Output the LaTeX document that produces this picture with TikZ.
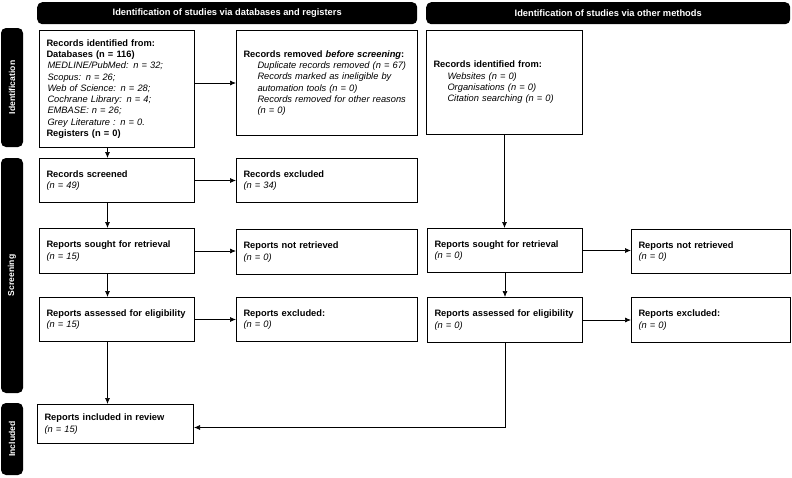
\documentclass[tikz,border=0pt]{standalone}
\usepackage{fontspec}
\setmainfont{Liberation Sans}
\usetikzlibrary{arrows.meta}

\newcommand{\itemline}[1]{\hspace*{14pt}\textit{#1}}

\tikzset{
  stage/.style={fill=black, rounded corners=5pt, text=white, inner sep=0pt,
    font=\bfseries\fontsize{9.3}{11}\selectfont},
  side/.style={stage, rotate=90, minimum height=22pt,
    font=\bfseries\fontsize{8.6}{10}\selectfont},
  box/.style={draw, line width=1pt, anchor=north west, align=left,
    inner xsep=7pt, inner ysep=2pt, font=\fontsize{9.3}{11.3}\selectfont},
  flow/.style={-{Latex[length=6pt,width=5pt]}, line width=0.7pt}
}

\begin{document}
\begin{tikzpicture}[x=1pt, y=-1pt]
  \useasboundingbox (0,0) rectangle (792,477);

  \node[stage, anchor=north west, minimum width=380pt, minimum height=22pt] (hdb) at (37,2)
    {Identification of studies via databases and registers};
  \node[stage, anchor=north west, minimum width=364pt, minimum height=22pt] (hoth) at (426,2)
    {Identification of studies via other methods};

  \node[side, minimum width=119pt] (sid) at (12,87.5) {Identification};
  \node[side, minimum width=235pt] (sscr) at (12,275.5) {Screening};
  \node[side, minimum width=72pt] (sinc) at (12,439) {Included};

  \node[box, text width=141pt, minimum height=117pt] (db) at (39,30)
    {\textbf{Records identified from:}\\
     \textbf{Databases (n = 116)}\\
     \hspace*{1pt}\textit{MEDLINE/PubMed: n = 32;}\\
     \hspace*{1pt}\textit{Scopus: n = 26;}\\
     \hspace*{1pt}\textit{Web of Science: n = 28;}\\
     \hspace*{1pt}\textit{Cochrane Library: n = 4;}\\
     \hspace*{1pt}\textit{EMBASE: n = 26;}\\
     \hspace*{1pt}\textit{Grey Literature : n = 0.}\\
     \textbf{Registers (n = 0)}};
  \node[box, text width=167pt, minimum height=105pt] (rem) at (236,30)
    {\textbf{Records removed \textit{before screening}:}\\
     \itemline{Duplicate records removed (n = 67)}\\
     \itemline{Records marked as ineligible by}\\
     \itemline{automation tools (n = 0)}\\
     \itemline{Records removed for other reasons}\\
     \itemline{(n = 0)}};
  \node[box, text width=142pt, minimum height=104pt] (oth) at (426,30)
    {\textbf{Records identified from:}\\
     \itemline{Websites (n = 0)}\\
     \itemline{Organisations (n = 0)}\\
     \itemline{Citation searching (n = 0)}};

  \node[box, text width=141pt, minimum height=44pt] (scr) at (39,158)
    {\textbf{Records screened}\\ \textit{(n = 49)}};
  \node[box, text width=167pt, minimum height=44pt] (exc) at (236,158)
    {\textbf{Records excluded}\\ \textit{(n = 34)}};

  \node[box, text width=141pt, minimum height=45pt] (sought) at (39,228)
    {\textbf{Reports sought for retrieval}\\ \textit{(n = 15)}};
  \node[box, text width=167pt, minimum height=45pt] (notret) at (236,229)
    {\textbf{Reports not retrieved}\\ \textit{(n = 0)}};
  \node[box, text width=141pt, minimum height=44pt] (osought) at (427,228)
    {\textbf{Reports sought for retrieval}\\ \textit{(n = 0)}};
  \node[box, text width=145pt, minimum height=44pt] (onotret) at (631,229)
    {\textbf{Reports not retrieved}\\ \textit{(n = 0)}};

  \node[box, text width=141pt, minimum height=44pt] (elig) at (39,297)
    {\textbf{Reports assessed for eligibility}\\ \textit{(n = 15)}};
  \node[box, text width=167pt, minimum height=44pt] (rexc) at (236,297)
    {\textbf{Reports excluded:}\\ \textit{(n = 0)}};
  \node[box, text width=141pt, minimum height=45pt] (oelig) at (427,297)
    {\textbf{Reports assessed for eligibility}\\ \textit{(n = 0)}};
  \node[box, text width=145pt, minimum height=45pt] (orexc) at (631,297)
    {\textbf{Reports excluded:}\\ \textit{(n = 0)}};

  \node[box, text width=142pt, minimum height=39pt] (incl) at (37,404)
    {\textbf{Reports included in review}\\ \textit{(n = 15)}};

  \draw[flow] (rem.west -| db.east) -- (rem.west);
  \draw[flow] (scr.east) -- (scr.east -| exc.west);
  \draw[flow] (sought.east) -- (sought.east -| notret.west);
  \draw[flow] (elig.east) -- (elig.east -| rexc.west);
  \draw[flow] (osought.east) -- (osought.east -| onotret.west);
  \draw[flow] (oelig.east) -- (oelig.east -| orexc.west);

  \draw[flow] ([xshift=-9.5pt]db.south) -- ([xshift=-9.5pt]scr.north);
  \draw[flow] ([xshift=-9.5pt]scr.south) -- ([xshift=-9.5pt]sought.north);
  \draw[flow] ([xshift=-9.5pt]sought.south) -- ([xshift=-9.5pt]elig.north);
  \draw[flow] ([xshift=-9.5pt]elig.south) -- ([xshift=-8pt]incl.north);
  \draw[flow] (oth.south) -- (oth.south |- osought.north);
  \draw[flow] (osought.south) -- (osought.south |- oelig.north);
  \draw[flow] (oelig.south) |- ([yshift=-3.5pt]incl.east);
\end{tikzpicture}
\end{document}
